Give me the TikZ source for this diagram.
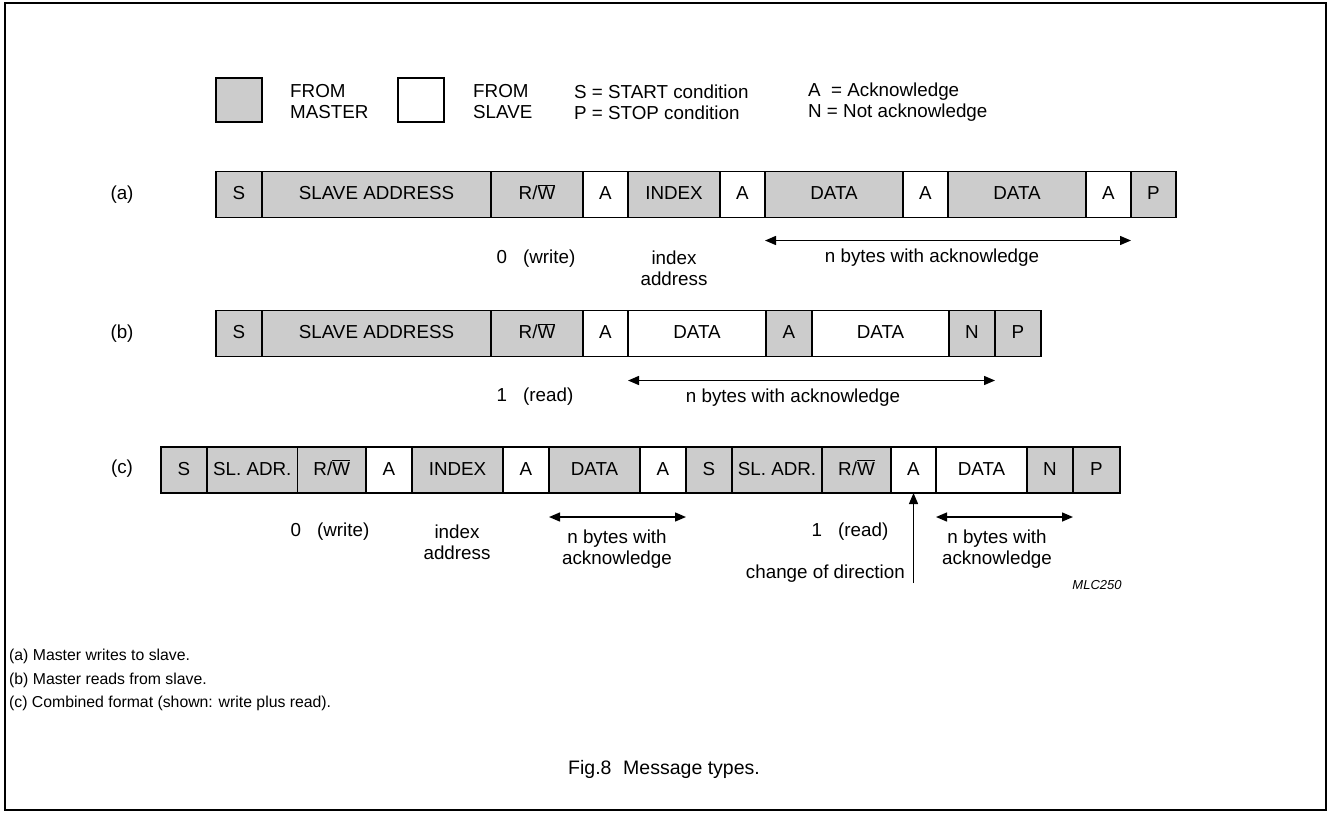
\documentclass[tikz,border=0pt]{standalone}
\usepackage{fontspec}
\setmainfont{Liberation Sans}
\usetikzlibrary{arrows.meta, positioning, calc}
\definecolor{mgray}{RGB}{204,204,204}
\newcommand{\lbl}{\fontsize{18.8}{21}\selectfont}
\newcommand{\notefont}{\fontsize{15.8}{19}\selectfont}
\newcommand{\rwbar}{R/$\overline{\mbox{W}}$}
\tikzset{
  mbox/.style={rectangle, draw=black, fill=mgray, minimum height=46pt,
    text height=13.5pt, text depth=3.5pt,
    inner sep=0pt, outer sep=0pt, line width=1.6pt, font=\lbl},
  sbox/.style={mbox, fill=white},
  txt/.style={font=\lbl, inner sep=0pt, align=center},
  note/.style={font=\notefont, anchor=west, inner sep=0pt},
  span/.style={{Triangle[length=11pt,width=9pt]}-{Triangle[length=11pt,width=9pt]},
    line width=1.4pt},
  turnarrow/.style={-{Triangle[length=11pt,width=9pt]}, line width=1.4pt}
}
\begin{document}
\begin{tikzpicture}[x=1pt, y=-1pt]
  \useasboundingbox (0,0) rectangle (1327,812);
  % Frame
  \draw[line width=2pt] (5,3) rectangle (1326,810);
  % Legend
  \node[mbox, minimum width=46pt, minimum height=44pt] (kmaster) at (239,100) {};
  \node[txt, anchor=west, align=left] (tmaster) at (290,102) {FROM\\MASTER};
  \node[sbox, minimum width=46pt, minimum height=44pt] (kslave) at (421,100) {};
  \node[txt, anchor=west, align=left] (tslave) at (473,102) {FROM\\SLAVE};
  \node[txt, anchor=west, align=left] (tsp) at (574,102) {S = START condition\\P = STOP condition};
  \node[txt, anchor=west, align=left] (tan) at (808,102) {A\ \ = Acknowledge\\N = Not acknowledge};
  % Row (a)
  \node[txt] (la) at (122,194.5) {(a)};
  \node[mbox, minimum width=46pt] (a1) at (239,194.5) {S};
  \node[mbox, minimum width=229pt, right=0pt of a1] (a2) {SLAVE ADDRESS};
  \node[mbox, minimum width=92pt, right=0pt of a2] (a3) {\rwbar};
  \node[sbox, minimum width=45pt, right=0pt of a3] (a4) {A};
  \node[mbox, minimum width=92pt, right=0pt of a4] (a5) {INDEX};
  \node[sbox, minimum width=45pt, right=0pt of a5] (a6) {A};
  \node[mbox, minimum width=138pt, right=0pt of a6] (a7) {DATA};
  \node[sbox, minimum width=45pt, right=0pt of a7] (a8) {A};
  \node[mbox, minimum width=138pt, right=0pt of a8] (a9) {DATA};
  \node[sbox, minimum width=45pt, right=0pt of a9] (a10) {A};
  \node[mbox, minimum width=45pt, right=0pt of a10] (a11) {P};
  \node[txt] (aw) at (536,259) {0\hspace{0.85em}(write)};
  \node[txt] (ai) at (674,268) {index\\address};
  \draw[span] ($(a7.south west)+(0,23)$) -- ($(a10.south east)+(0,23)$);
  \node[txt] (an) at (932,258) {n bytes with acknowledge};
  % Row (b)
  \node[txt] (lb) at (122,333.5) {(b)};
  \node[mbox, minimum width=46pt] (b1) at (239,333.5) {S};
  \node[mbox, minimum width=229pt, right=0pt of b1] (b2) {SLAVE ADDRESS};
  \node[mbox, minimum width=92pt, right=0pt of b2] (b3) {\rwbar};
  \node[sbox, minimum width=45pt, right=0pt of b3] (b4) {A};
  \node[sbox, minimum width=138pt, right=0pt of b4] (b5) {DATA};
  \node[mbox, minimum width=46pt, right=0pt of b5] (b6) {A};
  \node[sbox, minimum width=137pt, right=0pt of b6] (b7) {DATA};
  \node[mbox, minimum width=46pt, right=0pt of b7] (b8) {N};
  \node[mbox, minimum width=46pt, right=0pt of b8] (b9) {P};
  \node[txt] (br) at (535,397) {1\hspace{0.85em}(read)};
  \draw[span] ($(b5.south west)+(0,24)$) -- ($(b8.south east)+(0,24)$);
  \node[txt] (bn) at (793,398) {n bytes with acknowledge};
  % Row (c)
  \node[txt] (lc) at (122,469) {(c)};
  \node[mbox, minimum width=46pt] (c1) at (184,470) {S};
  \node[mbox, minimum width=90.5pt, right=0pt of c1] (c2) {SL. ADR.};
  \node[mbox, minimum width=68.5pt, right=0pt of c2] (c3) {\rwbar};
  \node[sbox, minimum width=46pt, right=0pt of c3] (c4) {A};
  \node[mbox, minimum width=91pt, right=0pt of c4] (c5) {INDEX};
  \node[sbox, minimum width=46pt, right=0pt of c5] (c6) {A};
  \node[mbox, minimum width=91pt, right=0pt of c6] (c7) {DATA};
  \node[sbox, minimum width=46pt, right=0pt of c7] (c8) {A};
  \node[mbox, minimum width=46pt, right=0pt of c8] (c9) {S};
  \node[mbox, minimum width=90pt, right=0pt of c9] (c10) {SL. ADR.};
  \node[mbox, minimum width=69pt, right=0pt of c10] (c11) {\rwbar};
  \node[sbox, minimum width=45pt, right=0pt of c11] (c12) {A};
  \node[sbox, minimum width=91pt, right=0pt of c12] (c13) {DATA};
  \node[mbox, minimum width=46pt, right=0pt of c13] (c14) {N};
  \node[mbox, minimum width=47pt, right=0pt of c14] (c15) {P};
  \node[txt] (cw) at (330,532) {0\hspace{0.85em}(write)};
  \node[txt] (ci) at (457,542) {index\\address};
  \draw[span] ($(c7.south west)+(0,24)$) -- ($(c8.south east)+(0,24)$);
  \node[txt] (cn1) at (617,549) {n bytes with\\acknowledge};
  \node[txt] (cr) at (850,532) {1\hspace{0.85em}(read)};
  \coordinate (turn) at ($(c12.south)+(0,90)$);
  \draw[turnarrow] (turn) -- (c12.south);
  \node[txt, anchor=east] (cd) at (905,574) {change of direction};
  \draw[span] ($(c13.south west)+(0,24)$) -- ($(c14.south east)+(0,24)$);
  \node[txt] (cn2) at (997,549) {n bytes with\\acknowledge};
  \node[font=\fontsize{13}{15}\selectfont\itshape, inner sep=0pt] (code) at (1097,585) {MLC250};
  % Notes
  \node[note] (na) at (9,656) {(a) Master writes to slave.};
  \node[note] (nb) at (9,680) {(b) Master reads from slave.};
  \node[note] (nc) at (9,703) {(c) Combined format (shown: write plus read).};
  \node[font=\fontsize{19.5}{23}\selectfont, inner sep=0pt] (cap) at (664,769) {Fig.8\hspace{0.6em}Message types.};
\end{tikzpicture}
\end{document}
